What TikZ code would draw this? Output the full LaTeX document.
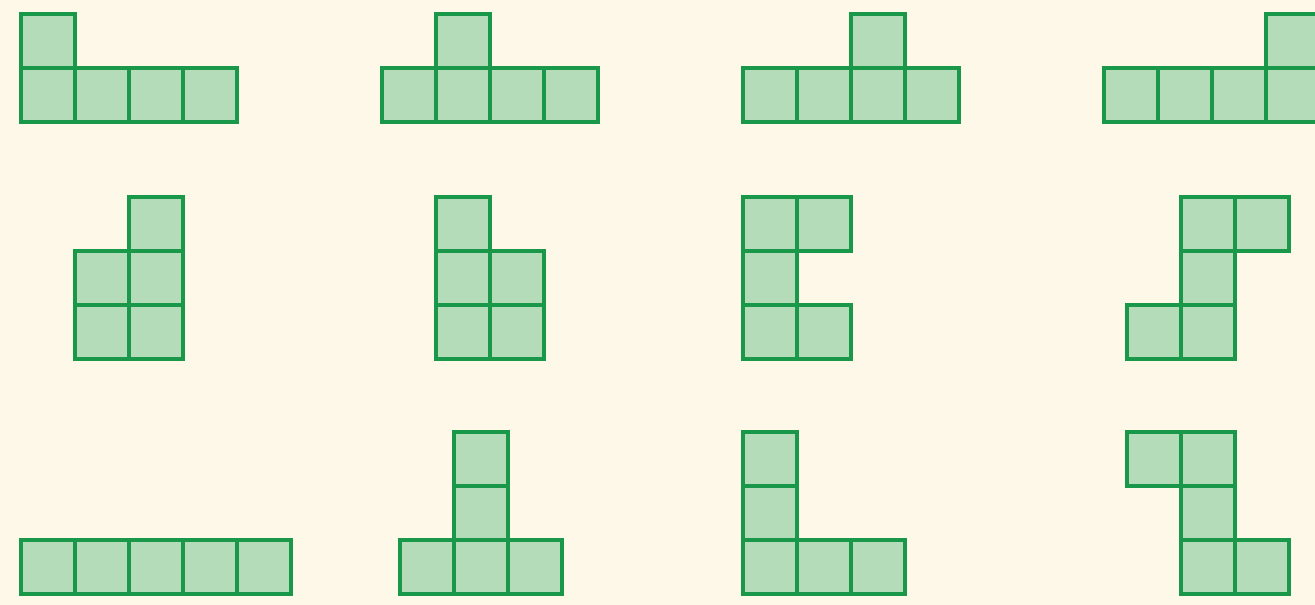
\documentclass[tikz,border=0pt]{standalone}
\usepackage{tikz}
\definecolor{paper}{RGB}{253,248,232}
\definecolor{tile}{RGB}{26,152,74}
\definecolor{tilefill}{RGB}{180,220,184}
\tikzset{
  cell/.style={draw=tile,fill=tilefill,line width=2.3pt,line join=miter}
}
\begin{document}
\begin{tikzpicture}[x=0.02cm,y=-0.02cm]
\fill[paper] (0,0) rectangle (1315,605);
\useasboundingbox (0,0) rectangle (1315,605);
% top row
\foreach \c/\r in {0/0,0/1,1/1,2/1,3/1} \draw[cell] (21+54*\c,14+54*\r) rectangle ++(54,54);
\foreach \c/\r in {1/0,0/1,1/1,2/1,3/1} \draw[cell] (382+54*\c,14+54*\r) rectangle ++(54,54);
\foreach \c/\r in {2/0,0/1,1/1,2/1,3/1} \draw[cell] (743+54*\c,14+54*\r) rectangle ++(54,54);
\foreach \c/\r in {3/0,0/1,1/1,2/1,3/1} \draw[cell] (1104+54*\c,14+54*\r) rectangle ++(54,54);
% middle row
\foreach \c/\r in {1/0,0/1,1/1,0/2,1/2} \draw[cell] (75+54*\c,197+54*\r) rectangle ++(54,54);
\foreach \c/\r in {0/0,0/1,1/1,0/2,1/2} \draw[cell] (436+54*\c,197+54*\r) rectangle ++(54,54);
\foreach \c/\r in {0/0,1/0,0/1,0/2,1/2} \draw[cell] (743+54*\c,197+54*\r) rectangle ++(54,54);
\foreach \c/\r in {1/0,2/0,1/1,0/2,1/2} \draw[cell] (1127+54*\c,197+54*\r) rectangle ++(54,54);
% bottom row
\foreach \c/\r in {0/2,1/2,2/2,3/2,4/2} \draw[cell] (21+54*\c,432+54*\r) rectangle ++(54,54);
\foreach \c/\r in {1/0,1/1,0/2,1/2,2/2} \draw[cell] (400+54*\c,432+54*\r) rectangle ++(54,54);
\foreach \c/\r in {0/0,0/1,0/2,1/2,2/2} \draw[cell] (743+54*\c,432+54*\r) rectangle ++(54,54);
\foreach \c/\r in {0/0,1/0,1/1,1/2,2/2} \draw[cell] (1127+54*\c,432+54*\r) rectangle ++(54,54);
\end{tikzpicture}
\end{document}
